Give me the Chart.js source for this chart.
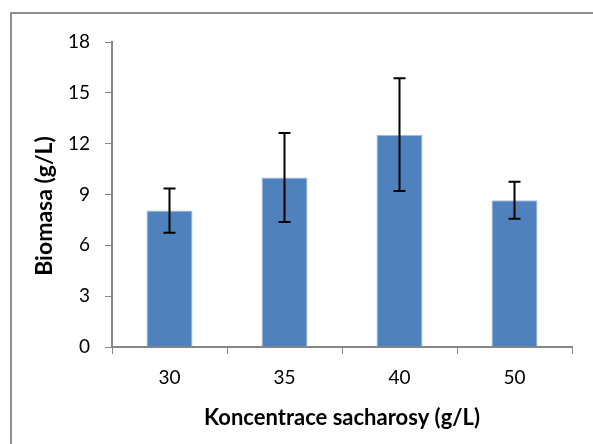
<!DOCTYPE html>
<html lang="cs">
    <head>
        <meta charset="UTF-8">
        <title>Biomasa vs koncentrace sacharosy</title>
        <script src="https://cdn.jsdelivr.net/npm/chart.js"></script>
        <style>
            body { margin: 0; background: #fff; }
            #box { position: relative; width: 593px; height: 444px; }
        </style>
    </head>

    <body>
        <div id="box"><canvas id="myChart"></canvas></div>
    </body>

    <script>
        // data
        const koncentrace = ["30", "35", "40", "50"];
        const biomasa = [8.05, 10.0, 12.53, 8.66];
        const chyba = [1.31, 2.63, 3.33, 1.09];
        const yTicks = [0, 3, 6, 9, 12, 15, 18];
        const yTitulek = "Biomasa (g/L)";
        const xTitulek = "Koncentrace sacharosy (g/L)";

        const fontName = "Lato";

        // ramecek vlevo a nahore
        const ramecek = {
            id: 'ramecek',
            beforeDraw(chart) {
                const c = chart.ctx;
                c.save();
                c.strokeStyle = '#8e8e8e';
                c.lineWidth = 2;
                c.beginPath();
                c.moveTo(11, 444);
                c.lineTo(11, 13);
                c.lineTo(593, 13);
                c.stroke();
                c.restore();
            }
        };

        // popisek osy y (posunuty trochu dolu jako v originale)
        const popisekY = {
            id: 'popisekY',
            afterDraw(chart) {
                const c = chart.ctx;
                c.save();
                c.translate(45, 206);
                c.rotate(-Math.PI / 2);
                c.font = 'bold 23px ' + fontName;
                c.fillStyle = '#000';
                c.textAlign = 'center';
                c.textBaseline = 'middle';
                c.fillText(yTitulek, 0, 0);
                c.restore();
            }
        };

        // chybove usecky
        const chybovky = {
            id: 'chybovky',
            afterDatasetsDraw(chart) {
                const c = chart.ctx;
                const y = chart.scales.y;
                const meta = chart.getDatasetMeta(0);
                c.save();
                c.strokeStyle = '#000';
                c.lineWidth = 2;
                meta.data.forEach((bar, i) => {
                    const x = bar.x;
                    const top = y.getPixelForValue(biomasa[i] + chyba[i]);
                    const bot = y.getPixelForValue(biomasa[i] - chyba[i]);
                    c.beginPath();
                    c.moveTo(x, top); c.lineTo(x, bot);
                    c.moveTo(x - 6, top); c.lineTo(x + 6, top);
                    c.moveTo(x - 6, bot); c.lineTo(x + 6, bot);
                    c.stroke();
                });
                c.restore();
            }
        };

        const ctx = document.getElementById('myChart').getContext('2d');
        const myChart = new Chart(ctx, {
            type: 'bar',
            data: {
                labels: koncentrace,
                datasets: [{
                    label: 'Biomasa',
                    data: biomasa,
                    backgroundColor: '#4f81bd',
                    borderColor: '#a7bfdd',
                    borderWidth: 1,
                    categoryPercentage: 1,
                    barPercentage: 0.4
                }]
            },
            options: {
                responsive: true,
                maintainAspectRatio: false,
                animation: false,
                layout: { padding: { left: 0, top: 42, right: 21, bottom: 0 } },
                plugins: { legend: { display: false }, tooltip: { enabled: false } },
                scales: {
                    x: {
                        afterFit(scale) { scale.height = 97; },
                        grid: { drawOnChartArea: false, tickLength: 7, color: '#868686', lineWidth: 1 },
                        border: { color: '#868686', width: 2 },
                        ticks: { color: '#000', padding: 12, font: { family: fontName, size: 19 } },
                        title: {
                            display: true,
                            text: xTitulek,
                            color: '#000',
                            font: { family: fontName, size: 22, weight: 'bold' },
                            padding: { top: 0, bottom: 13 }
                        }
                    },
                    y: {
                        min: 0,
                        max: 18,
                        afterFit(scale) { scale.width = 112; },
                        afterBuildTicks(scale) { scale.ticks = yTicks.map(v => ({ value: v })); },
                        grid: { drawOnChartArea: false, tickLength: 7, color: '#868686', lineWidth: 1 },
                        border: { color: '#868686', width: 2 },
                        ticks: { color: '#000', padding: 15, font: { family: fontName, size: 19 } }
                    }
                }
            },
            plugins: [ramecek, popisekY, chybovky]
        });
    </script>
</html>
